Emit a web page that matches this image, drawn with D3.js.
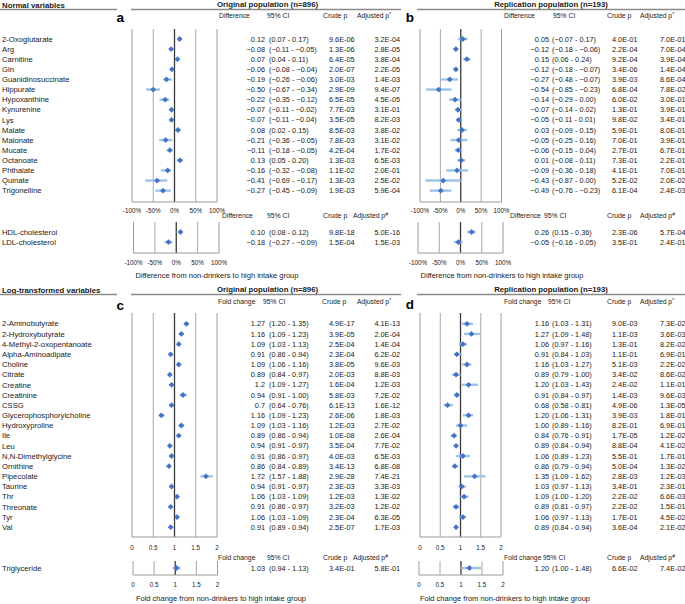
<!DOCTYPE html>
<html><head><meta charset="utf-8">
<script src="https://cdn.jsdelivr.net/npm/d3@7/dist/d3.min.js"></script>
<style>body{margin:0;background:#fff}svg{display:block}</style>
</head><body>
<svg id="chart" width="685" height="604"></svg>
<script>
// ---------------- DATA ----------------
const normalLabels = ["2-Oxoglutarate","Arg","Carnitine","Gln","Guanidinosuccinate","Hippurate","Hypoxanthine","Kynurenine","Lys","Malate","Malonate","Mucate","Octanoate","Phthalate","Quinate","Trigonelline"];
const origDiff   = [0.12,-0.08,0.07,-0.06,-0.19,-0.50,-0.22,-0.07,-0.07,0.08,-0.21,-0.11,0.13,-0.16,-0.41,-0.27];
const origDiffLo = [0.07,-0.11,0.04,-0.08,-0.26,-0.67,-0.35,-0.11,-0.11,0.02,-0.36,-0.18,0.05,-0.32,-0.69,-0.45];
const origDiffHi = [0.17,-0.05,0.11,-0.04,-0.06,-0.34,-0.12,-0.02,-0.04,0.15,-0.05,-0.05,0.20,-0.08,-0.17,-0.09];
const origDiffCrude = [9.6e-6,1.3e-6,6.4e-5,2.0e-7,3.0e-3,2.9e-9,6.5e-5,7.7e-3,3.5e-5,8.5e-3,7.8e-3,4.2e-4,1.3e-3,1.1e-2,1.3e-3,1.9e-3];
const origDiffAdj   = [3.2e-4,2.8e-5,3.8e-4,2.2e-5,1.4e-3,9.4e-7,4.5e-5,3.1e-1,8.2e-3,3.8e-2,3.1e-2,1.7e-2,6.5e-3,2.0e-1,2.5e-2,5.9e-4];

const replDiff   = [0.05,-0.12,0.15,-0.12,-0.27,-0.54,-0.14,-0.07,-0.05,0.03,-0.05,-0.06,0.01,-0.09,-0.43,-0.49];
const replDiffLo = [-0.07,-0.18,0.06,-0.18,-0.48,-0.85,-0.29,-0.14,-0.11,-0.09,-0.25,-0.15,-0.08,-0.36,-0.87,-0.76];
const replDiffHi = [0.17,-0.06,0.24,-0.07,-0.07,-0.23,0.00,0.02,0.01,0.15,0.16,0.04,0.11,0.18,0.00,-0.23];
const replDiffCrude = [4.0e-1,2.2e-4,9.2e-4,3.4e-6,3.9e-3,6.8e-4,6.0e-2,1.3e-1,9.8e-2,5.9e-1,7.0e-1,2.7e-1,7.3e-1,4.1e-1,5.2e-2,6.1e-4];
const replDiffAdj   = [7.0e-1,7.0e-4,3.9e-4,1.4e-4,8.6e-4,7.8e-2,3.0e-1,3.9e-1,3.4e-1,8.0e-1,3.9e-1,6.7e-1,2.2e-1,7.0e-1,2.0e-2,2.4e-3];

const lipidLabels = ["HDL-cholesterol","LDL-cholesterol"];
const origLipid = [0.10,-0.18], origLipidLo = [0.08,-0.27], origLipidHi = [0.12,-0.09];
const origLipidCrude = [9.8e-18,1.5e-4], origLipidAdj = [5.0e-16,1.5e-3];
const replLipid = [0.26,-0.05], replLipidLo = [0.15,-0.16], replLipidHi = [0.36,0.05];
const replLipidCrude = [2.3e-6,3.5e-1], replLipidAdj = [5.7e-4,2.4e-1];

const logLabels = ["2-Aminobutyrate","2-Hydroxybutyrate","4-Methyl-2-oxopentanoate","Alpha-Aminoadipate","Choline","Citrate","Creatine","Creatinine","CSSG","Glycerophosphorylcholine","Hydroxyproline","Ile","Leu","N,N-Dimethylglycine","Ornithine","Pipecolate","Taurine","Thr","Threonate","Tyr","Val"];
const origFC   = [1.27,1.16,1.09,0.91,1.09,0.89,1.2,0.94,0.7,1.16,1.09,0.89,0.94,0.91,0.86,1.72,0.94,1.06,0.91,1.06,0.91];
const origFCLo = [1.20,1.09,1.03,0.86,1.06,0.84,1.09,0.91,0.64,1.09,1.03,0.86,0.91,0.86,0.84,1.57,0.91,1.03,0.86,1.03,0.89];
const origFCHi = [1.35,1.23,1.13,0.94,1.16,0.97,1.27,1.00,0.76,1.23,1.16,0.94,0.97,0.97,0.89,1.88,0.97,1.09,0.97,1.09,0.94];
const origFCCrude = [4.9e-17,3.9e-5,2.5e-4,2.3e-4,3.8e-5,2.0e-3,1.6e-4,5.8e-3,6.1e-13,2.6e-6,1.2e-3,1.0e-8,3.5e-4,4.0e-3,3.4e-13,2.9e-28,2.3e-3,1.2e-3,3.2e-3,2.3e-4,2.5e-7];
const origFCAdj   = [4.1e-13,2.0e-4,1.4e-4,6.2e-2,9.6e-3,8.8e-3,1.2e-3,7.2e-2,1.6e-12,1.8e-3,2.7e-2,2.6e-4,7.7e-2,6.5e-3,6.8e-8,7.4e-21,3.3e-3,1.3e-2,1.2e-2,6.3e-5,1.7e-3];
// markers as plotted in panel c
const origFCPlot   = [1.28,1.16,1.10,0.91,1.10,0.89,0.93,1.20,0.93,0.69,1.16,1.10,0.89,0.93,0.87,1.74,0.93,1.06,0.91,1.06,0.91];
const origFCPlotLo = [1.22,1.11,1.06,0.88,1.06,0.86,0.90,1.12,0.90,0.63,1.10,1.05,0.86,0.90,0.85,1.61,0.91,1.03,0.88,1.03,0.89];
const origFCPlotHi = [1.34,1.22,1.14,0.94,1.14,0.93,0.97,1.29,0.96,0.77,1.23,1.15,0.93,0.97,0.89,1.90,0.96,1.09,0.94,1.09,0.94];

const replFC   = [1.16,1.27,1.06,0.91,1.16,0.89,1.20,0.91,0.68,1.20,1.00,0.84,0.89,1.06,0.86,1.35,1.03,1.09,0.89,1.06,0.89];
const replFCLo = [1.03,1.09,0.97,0.84,1.03,0.79,1.03,0.84,0.58,1.06,0.89,0.76,0.84,0.89,0.79,1.09,0.97,1.00,0.81,0.97,0.84];
const replFCHi = [1.31,1.48,1.16,1.03,1.27,1.00,1.43,0.97,0.81,1.31,1.16,0.91,0.94,1.23,0.94,1.62,1.13,1.20,0.97,1.13,0.94];
const replFCCrude = [9.0e-3,1.1e-3,1.3e-1,1.1e-1,5.1e-3,3.4e-2,2.4e-2,1.4e-3,4.9e-6,3.9e-3,8.2e-1,1.7e-5,8.8e-4,5.5e-1,5.0e-4,2.8e-3,3.4e-1,2.2e-2,2.2e-2,1.7e-1,3.6e-4];
const replFCAdj   = [7.3e-2,3.6e-3,8.2e-2,6.9e-1,2.2e-2,8.6e-2,1.1e-1,9.6e-3,1.3e-5,1.8e-1,6.9e-1,1.2e-2,4.1e-2,1.7e-1,1.3e-2,1.2e-3,2.3e-1,6.6e-3,1.5e-1,4.5e-2,2.1e-2];

const trigLabels = ["Triglyceride"];
const origTri = [1.03], origTriLo = [0.94], origTriHi = [1.13], origTriCrude = [3.4e-1], origTriAdj = [5.8e-1];
const replTri = [1.20], replTriLo = [1.00], replTriHi = [1.48], replTriCrude = [6.6e-2], replTriAdj = [7.4e-2];

const diffTicks = [-1,-0.5,0,0.5,1];
const diffTickLabels = ["-100%","-50%","0%","50%","100%"];
const fcTicks = [0,0.5,1,1.5,2];
const fcTickLabels = ["0","0.5","1","1.5","2"];

// ---------------- DRAW ----------------
const svg = d3.select("#chart");
const FONT = "'Liberation Sans', Arial, sans-serif";
const TXT = "#1a1a1a";
const f2 = d3.format(".2f");
function fp(v){
  const [m,e] = v.toExponential(1).split("e");
  const n = Math.abs(+e);
  return m + "E" + (+e < 0 ? "-" : "+") + String(n).padStart(2,"0");
}
function text(x,y,s,opt={}){
  return svg.append("text").attr("x",x).attr("y",y).attr("dy","0.35em")
    .attr("font-family",FONT).attr("font-size",opt.size||7.5)
    .attr("font-weight",opt.bold?"bold":"normal")
    .attr("text-anchor",opt.anchor||"start").attr("fill",opt.fill||TXT).text(s);
}
function sectionTitle(y, title, lineY){
  text(2,y,title,{bold:true,size:7.8});
  svg.append("line").attr("x1",0).attr("x2",117).attr("y1",lineY).attr("y2",lineY).attr("stroke","#8a8a8a").attr("stroke-width",1.6);
}
function popTitle(cx, y, title, x1, x2, lineY){
  text(cx,y,title,{bold:true,size:7.8,anchor:"middle"});
  svg.append("line").attr("x1",x1).attr("x2",x2).attr("y1",lineY).attr("y2",lineY).attr("stroke","#8a8a8a").attr("stroke-width",1.6);
}
function colHeader(y, items, sup){
  items.forEach(([s,x],i)=>{
    const t = text(x,y,s,{size:6.8});
    if(i===items.length-1){
      t.append("tspan").attr("dy","-2").attr("font-size",5).text(sup);
    }
  });
}
function rowLabels(labels, ys){
  labels.forEach((l,i)=>text(2,ys[i],l,{size:7.7}));
}
function forest(o){
  const x = d3.scaleLinear().domain(o.domain).range(o.range);
  const g = svg.append("g");
  o.ticks.forEach((t,i)=>{
    const isEnd = i===0 || i===o.ticks.length-1;
    const isCenter = t===o.center;
    g.append("line").attr("x1",x(t)).attr("x2",x(t)).attr("y1",o.top).attr("y2",o.bottom)
      .attr("stroke", isCenter ? "#3a3a3a" : (isEnd ? "#9a9a9a" : "#a8a8a8"))
      .attr("stroke-width", isCenter ? 1.3 : 1);
  });
  g.append("line").attr("x1",x(o.domain[0])).attr("x2",x(o.domain[1])).attr("y1",o.bottom).attr("y2",o.bottom)
    .attr("stroke","#9a9a9a").attr("stroke-width",1);
  o.est.forEach((v,i)=>{
    const y = o.ys[i];
    g.append("line").attr("x1",x(o.lo[i])).attr("x2",x(o.hi[i])).attr("y1",y).attr("y2",y)
      .attr("stroke","#9DC3E6").attr("stroke-width",2.4);
    const cx = x(v), r = 2.9;
    g.append("path").attr("d",`M${cx},${y-r}L${cx+r},${y}L${cx},${y+r}L${cx-r},${y}Z`).attr("fill","#4472C4");
  });
  o.ticks.forEach((t,i)=>text(x(t),o.tickY,o.tickLabels[i],{size:6.3,anchor:"middle"}));
}
function table(o){
  o.est.forEach((v,i)=>{
    const y = o.ys[i];
    text(o.estEnd,y,o.estFmt(v),{size:7.3,anchor:"end"});
    text(o.ciStart,y,"(" + f2(o.lo[i]) + " - " + f2(o.hi[i]) + ")",{size:7.3});
    text(o.crudeX,y,fp(o.crude[i]),{size:7.3});
    text(o.adjX,y,fp(o.adj[i]),{size:7.3,anchor:o.adjAnchor});
  });
}
const rows = (n,y0,step)=>d3.range(n).map(i=>y0+i*step);

// ===== Normal variables =====
sectionTitle(5,"Normal variables",9.5);
popTitle(267.5,4.5,"Original population (n=896)",131,401,9.5);
popTitle(551,4.5,"Replication population (n=193)",417,685,9.5);
text(124,17,"a",{bold:true,size:13.5,anchor:"end",fill:"#000"});
text(414,17,"b",{bold:true,size:13.5,anchor:"end",fill:"#000"});
colHeader(16,[["Difference",219],["95% CI",267],["Crude p",323],["Adjusted p",357]],"*");
colHeader(16,[["Difference",504],["95% CI",553],["Crude p",607],["Adjusted p",640]],"*");

const nY = rows(normalLabels.length,39,10.11);
rowLabels(normalLabels,nY);
forest({domain:[-1,1],range:[132,217],ticks:diffTicks,tickLabels:diffTickLabels,center:0,top:29,bottom:202,tickY:211,
  ys:nY,est:origDiff,lo:origDiffLo,hi:origDiffHi});
forest({domain:[-1,1],range:[420,501.5],ticks:diffTicks,tickLabels:diffTickLabels,center:0,top:29,bottom:202,tickY:211,
  ys:nY,est:replDiff,lo:replDiffLo,hi:replDiffHi});
table({ys:nY,est:origDiff,lo:origDiffLo,hi:origDiffHi,crude:origDiffCrude,adj:origDiffAdj,estFmt:f2,
  estEnd:265,ciStart:269,crudeX:329,adjX:400,adjAnchor:"end"});
table({ys:nY,est:replDiff,lo:replDiffLo,hi:replDiffHi,crude:replDiffCrude,adj:replDiffAdj,estFmt:f2,
  estEnd:549,ciStart:552,crudeX:612,adjX:660,adjAnchor:"start"});

// lipids
colHeader(216,[["Difference",222],["95% CI",267],["Crude p",323],["Adjusted p",353]],"#");
colHeader(216,[["Difference",510],["95% CI",544],["Crude p",607],["Adjusted p",640]],"#");
const lY = rows(lipidLabels.length,232,10.1);
rowLabels(lipidLabels,lY);
forest({domain:[-1,1],range:[133.5,219],ticks:diffTicks,tickLabels:diffTickLabels,center:0,top:222,bottom:253,tickY:263,
  ys:lY,est:origLipid,lo:origLipidLo,hi:origLipidHi});
forest({domain:[-1,1],range:[418,503],ticks:diffTicks,tickLabels:diffTickLabels,center:0,top:222,bottom:253,tickY:263,
  ys:lY,est:replLipid,lo:replLipidLo,hi:replLipidHi});
table({ys:lY,est:origLipid,lo:origLipidLo,hi:origLipidHi,crude:origLipidCrude,adj:origLipidAdj,estFmt:f2,
  estEnd:265,ciStart:269,crudeX:329,adjX:400,adjAnchor:"end"});
table({ys:lY,est:replLipid,lo:replLipidLo,hi:replLipidHi,crude:replLipidCrude,adj:replLipidAdj,estFmt:f2,
  estEnd:549,ciStart:552,crudeX:612,adjX:660,adjAnchor:"start"});
text(217,275,"Difference from non-drinkers to high intake group",{size:7.5,anchor:"middle"});
text(502,275,"Difference from non-drinkers to high intake group",{size:7.5,anchor:"middle"});

// ===== Log-transformed variables =====
sectionTitle(290,"Log-transformed variables",294.5);
popTitle(267.5,289.5,"Original population (n=896)",131,401,294.5);
popTitle(551,289.5,"Replication population (n=193)",417,685,294.5);
text(124,305,"c",{bold:true,size:13.5,anchor:"end",fill:"#000"});
text(414,304,"d",{bold:true,size:13.5,anchor:"end",fill:"#000"});
colHeader(302,[["Fold change",218],["95% CI",263],["Crude p",322],["Adjusted p",357]],"*");
colHeader(302,[["Fold change",504],["95% CI",548],["Crude p",607],["Adjusted p",640]],"*");

const gY = rows(logLabels.length,323.8,10.17);
rowLabels(logLabels,gY);
forest({domain:[0,2],range:[132,217],ticks:fcTicks,tickLabels:fcTickLabels,center:1,top:313,bottom:537,tickY:548,
  ys:gY,est:origFCPlot,lo:origFCPlotLo,hi:origFCPlotHi});
forest({domain:[0,2],range:[420,501],ticks:fcTicks,tickLabels:fcTickLabels,center:1,top:313,bottom:537,tickY:548,
  ys:gY,est:replFC,lo:replFCLo,hi:replFCHi});
table({ys:gY,est:origFC,lo:origFCLo,hi:origFCHi,crude:origFCCrude,adj:origFCAdj,estFmt:v=>String(v),
  estEnd:265,ciStart:269,crudeX:329,adjX:400,adjAnchor:"end"});
table({ys:gY,est:replFC,lo:replFCLo,hi:replFCHi,crude:replFCCrude,adj:replFCAdj,estFmt:f2,
  estEnd:549,ciStart:552,crudeX:612,adjX:660,adjAnchor:"start"});

// triglyceride
colHeader(558,[["Fold change",218],["95% CI",267],["Crude p",323],["Adjusted p",353]],"#");
colHeader(558,[["Fold change",504],["95% CI",543],["Crude p",607],["Adjusted p",640]],"#");
const tY = [568];
rowLabels(trigLabels,tY);
forest({domain:[0,2],range:[133,217.5],ticks:fcTicks,tickLabels:fcTickLabels,center:1,top:561,bottom:575,tickY:585,
  ys:tY,est:origTri,lo:origTriLo,hi:origTriHi});
forest({domain:[0,2],range:[419,503],ticks:fcTicks,tickLabels:fcTickLabels,center:1,top:561,bottom:575,tickY:585,
  ys:tY,est:replTri,lo:replTriLo,hi:replTriHi});
table({ys:tY,est:origTri,lo:origTriLo,hi:origTriHi,crude:origTriCrude,adj:origTriAdj,estFmt:f2,
  estEnd:265,ciStart:269,crudeX:329,adjX:400,adjAnchor:"end"});
table({ys:tY,est:replTri,lo:replTriLo,hi:replTriHi,crude:replTriCrude,adj:replTriAdj,estFmt:f2,
  estEnd:549,ciStart:552,crudeX:612,adjX:660,adjAnchor:"start"});
text(221,598,"Fold change from non-drinkers to high intake group",{size:7.5,anchor:"middle"});
text(505,598,"Fold change from non-drinkers to high intake group",{size:7.5,anchor:"middle"});
</script>
</body></html>
